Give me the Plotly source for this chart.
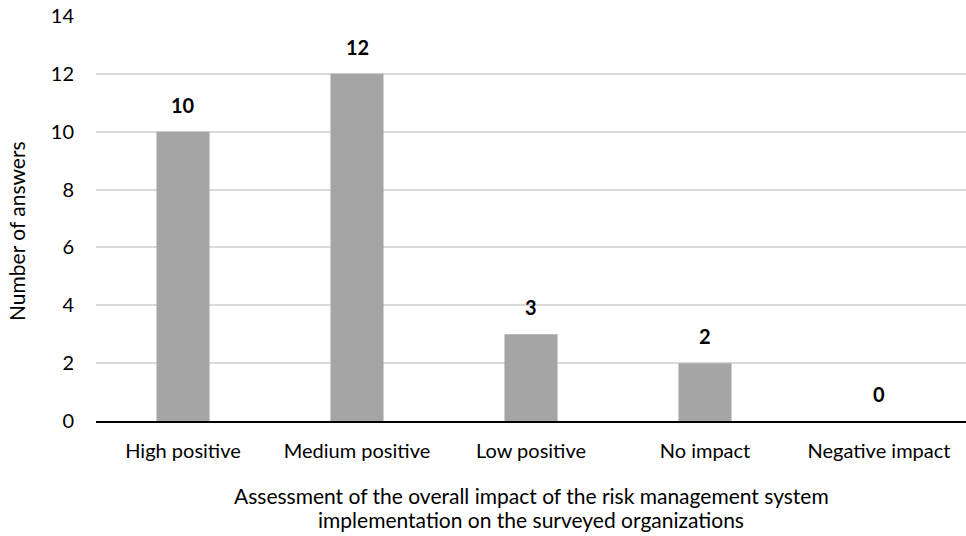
import plotly.graph_objects as go

categories = ["High positive", "Medium positive", "Low positive", "No impact", "Negative impact"]
answers = [10, 12, 3, 2, 0]
y_ticks = [0, 2, 4, 6, 8, 10, 12, 14]
x_title_lines = ["Assessment of the overall impact of the risk management system",
                 "implementation on the surveyed organizations"]
y_title = "Number of answers"

FONT = "Lato, Open Sans, sans-serif"
FS = 20

fig = go.Figure()
fig.add_trace(go.Bar(
    x=categories, y=answers,
    marker=dict(color="#A5A5A5", line=dict(width=0)),
    hoverinfo="skip",
))

for c, v in zip(categories, answers):
    fig.add_annotation(x=c, y=v, text=f"<b>{v}</b>", showarrow=False,
                       yanchor="middle", yshift=27,
                       font=dict(family=FONT, size=FS, color="#000000"))

for line, yp in zip(x_title_lines, [-0.183, -0.242]):
    fig.add_annotation(xref="paper", yref="paper", x=0.5, y=yp,
                       text=line, showarrow=False, xanchor="center", yanchor="middle",
                       font=dict(family=FONT, size=21, color="#000000"))
fig.add_annotation(xref="paper", yref="paper", x=-0.092, y=0.469,
                   text=y_title, textangle=-90,
                   showarrow=False, xanchor="center", yanchor="middle",
                   font=dict(family=FONT, size=21, color="#000000"))

fig.update_layout(
    width=966, height=536,
    margin=dict(l=96, r=0, t=16, b=115),
    paper_bgcolor="white", plot_bgcolor="white",
    bargap=0.695,
    showlegend=False,
    font=dict(family=FONT, size=FS, color="#000000"),
    xaxis=dict(
        automargin=False,
        showline=True, linecolor="#000000", linewidth=1.5,
        ticks="", tickfont=dict(size=FS),
        ticklabelstandoff=11,
    ),
    yaxis=dict(
        automargin=False,
        range=[0, 14], tickvals=y_ticks, showgrid=True, gridcolor="#D9D9D9", gridwidth=1.5,
        zeroline=False, showline=False, ticks="", tickfont=dict(size=FS),
        ticklabelstandoff=21,
    ),
)

fig.write_html("out.html",
               config={"displayModeBar": False},
               post_script="document.body.style.margin='0';document.body.style.overflow='hidden';")
